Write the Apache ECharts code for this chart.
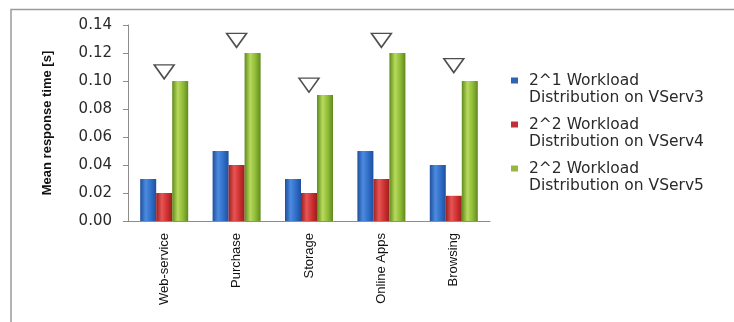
<!DOCTYPE html>
<html>
<head>
<meta charset="utf-8">
<script src="https://cdn.jsdelivr.net/npm/echarts@6/dist/echarts.min.js"></script>
<style>
  html, body { margin: 0; padding: 0; background: #fff; }
  #main { width: 734px; height: 322px; }
</style>
</head>
<body>
<div id="main"></div>
<script>
// data
var categories = ['Web-service', 'Purchase', 'Storage', 'Online Apps', 'Browsing'];
var seriesNames = [
  '2^1 Workload\nDistribution on VServ3',
  '2^2 Workload\nDistribution on VServ4',
  '2^2 Workload\nDistribution on VServ5'
];
var vserv3 = [0.03, 0.05, 0.03, 0.05, 0.04];
var vserv4 = [0.02, 0.04, 0.02, 0.03, 0.018];
var vserv5 = [0.10, 0.12, 0.09, 0.12, 0.10];
var markers = [0.1065, 0.129, 0.097, 0.129, 0.111];
var yTicks = [0, 0.02, 0.04, 0.06, 0.08, 0.10, 0.12, 0.14];

var chart = echarts.init(document.getElementById('main'));

function cyl(dark, mid, light) {
  return new echarts.graphic.LinearGradient(0, 0, 1, 0, [
    { offset: 0, color: dark },
    { offset: 0.35, color: light },
    { offset: 0.7, color: mid },
    { offset: 1, color: dark }
  ]);
}

var colors = [
  cyl('#1f4f9c', '#2e6cc6', '#4c8be0'),
  cyl('#9c1f1f', '#cc2f2f', '#e85454'),
  cyl('#5f8a1c', '#8cb836', '#b8da5c')
];
var legendColors = ['#2e63b8', '#c0303a', '#9ab640'];

function barSeries(i, data) {
  return {
    name: seriesNames[i],
    type: 'bar',
    data: data,
    barWidth: 16,
    barGap: '0%',
    itemStyle: { color: colors[i] },
    emphasis: { disabled: true }
  };
}

var option = {
  animation: false,
  backgroundColor: '#fff',
  textStyle: { fontFamily: 'DejaVu Sans' },
  graphic: [
    { type: 'polyline', shape: { points: [[11, 322], [11, 9.5], [734, 9.5]] },
      style: { stroke: '#9a9a9a', lineWidth: 1.5, fill: null } }
  ],
  grid: { left: 128, right: 244, top: 25, bottom: 101 },
  legend: {
    orient: 'vertical',
    left: 506,
    top: 50,
    itemWidth: 7,
    itemHeight: 6,
    itemGap: -7,
    icon: 'rect',
    data: seriesNames.map(function (n, i) {
      return { name: n, itemStyle: { color: legendColors[i] } };
    }),
    // blank first line keeps the icon level with the first text line
    formatter: function (name) {
      return '{e| }\n{t|' + name.split('\n').join('}\n{t|') + '}';
    },
    textStyle: {
      rich: {
        e: { fontSize: 15.5, lineHeight: 17.5 },
        t: {
          fontFamily: 'DejaVu Sans',
          fontSize: 15.5,
          lineHeight: 17.5,
          color: '#2a2a2a',
          padding: [0, 0, 0, 6]
        }
      }
    }
  },
  xAxis: {
    type: 'category',
    data: categories,
    axisLine: { lineStyle: { color: '#8c8c8c' } },
    axisTick: { show: false },
    axisLabel: {
      rotate: 90,
      fontFamily: 'Liberation Sans',
      fontSize: 13,
      color: '#111',
      margin: 12
    }
  },
  yAxis: {
    type: 'value',
    min: 0,
    max: 0.14,
    interval: 0.02,
    name: 'Mean response time [s]',
    nameLocation: 'middle',
    nameGap: 74,
    nameRotate: 90,
    nameTextStyle: {
      fontFamily: 'Liberation Sans',
      fontWeight: 'bold',
      fontSize: 13,
      color: '#111'
    },
    splitLine: { show: false },
    axisLine: { show: true, lineStyle: { color: '#8c8c8c' } },
    axisTick: { show: true, length: 5, lineStyle: { color: '#8c8c8c' } },
    axisLabel: {
      fontFamily: 'DejaVu Sans',
      fontSize: 15,
      color: '#2a2a2a',
      margin: 16,
      formatter: function (v) {
        var t = yTicks.find(function (y) { return Math.abs(y - v) < 1e-9; });
        return (t === undefined ? v : t).toFixed(2);
      }
    }
  },
  series: [
    barSeries(0, vserv3),
    barSeries(1, vserv4),
    barSeries(2, vserv5),
    {
      type: 'scatter',
      data: markers,
      symbol: 'triangle',
      symbolRotate: 180,
      symbolSize: [20, 14],
      itemStyle: { color: '#fff', borderColor: '#222', borderWidth: 1.5 },
      emphasis: { disabled: true },
      z: 5
    }
  ]
};

chart.setOption(option);
</script>
</body>
</html>
